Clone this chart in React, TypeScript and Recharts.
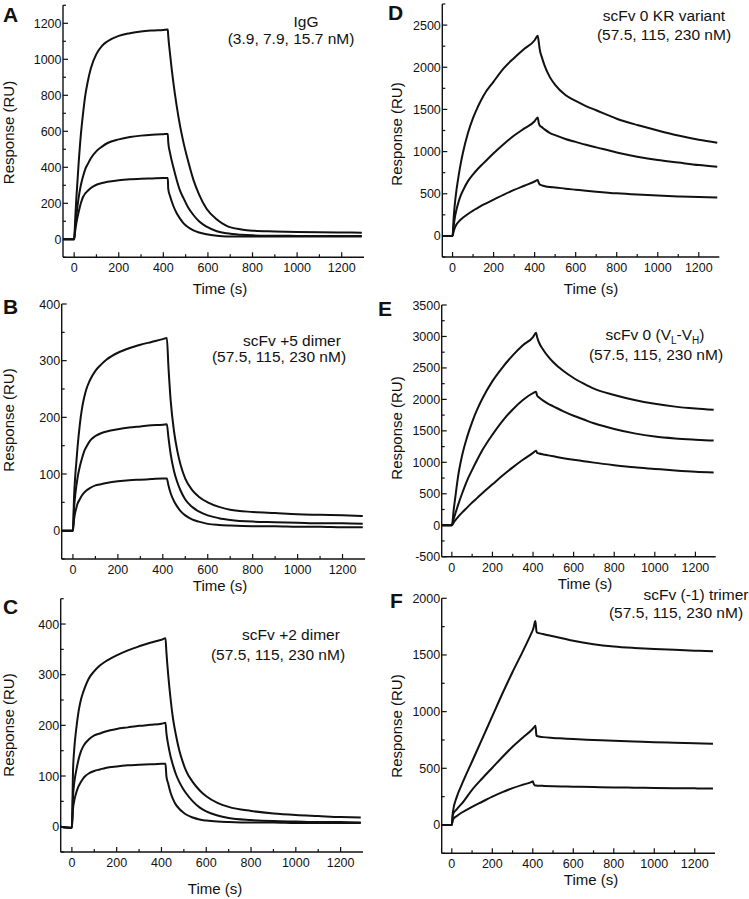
import { Line, LineChart, XAxis, YAxis } from "recharts"

const FONT = 'Arial, "Liberation Sans", Helvetica, sans-serif'
const INK = "#111"

// shared time axis (s)
const xTicks = [0, 100, 200, 300, 400, 500, 600, 700, 800, 900, 1000, 1100, 1200]
const xLabels = [0, 200, 400, 600, 800, 1000, 1200]

// A: IgG (3.9, 7.9, 15.7 nM)
const aTime = [-50, 0, 5, 10, 20, 30, 40, 50, 60, 75, 100, 125, 150, 200, 250, 300, 350, 400, 420, 422, 430, 445, 460, 475, 490, 510, 535, 560, 594, 640, 684, 750, 800, 900, 1000, 1100, 1200, 1290]
const aHigh = [0, 0, 120, 230, 420, 580, 700, 800, 870, 950, 1030, 1075, 1100, 1130, 1145, 1155, 1160, 1163, 1165, 1130, 1030, 870, 740, 630, 540, 440, 330, 250, 170, 110, 75, 55, 48, 44, 41, 39, 38, 37]
const aMid = [0, 0, 70, 130, 230, 300, 350, 390, 415, 450, 490, 515, 535, 555, 568, 576, 581, 584, 585, 540, 480, 400, 330, 270, 230, 180, 135, 100, 70, 45, 33, 25, 22, 20, 19, 18, 18, 18]
const aLow = [0, 0, 50, 90, 150, 200, 235, 255, 268, 285, 303, 313, 320, 328, 333, 336, 338, 340, 341, 280, 240, 185, 145, 115, 90, 68, 50, 38, 28, 20, 16, 15, 15, 15, 15, 16, 16, 16]
const aYTicks = [-100, 0, 100, 200, 300, 400, 500, 600, 700, 800, 900, 1000, 1100, 1200, 1300]
const aYLabels = [0, 200, 400, 600, 800, 1000, 1200]

// B: scFv +5 dimer
const bTime = [-50, 0, 5, 10, 15, 20, 30, 40, 50, 60, 75, 100, 125, 150, 200, 250, 300, 350, 400, 418, 425, 435, 450, 465, 480, 500, 530, 560, 600, 650, 700, 800, 900, 1000, 1100, 1200, 1290]
const bHigh = [0, 0, 60, 95, 120, 145, 185, 215, 235, 250, 265, 282, 293, 302, 314, 322, 328, 333, 338, 340, 290, 230, 175, 140, 115, 92, 72, 60, 50, 42, 37, 33, 31, 29, 28, 27, 26]
const bMid = [0, 0, 40, 62, 78, 92, 112, 127, 140, 148, 158, 167, 172, 175, 179, 182, 184, 186, 187, 188, 165, 135, 105, 85, 70, 55, 42, 34, 27, 22, 19, 16, 15, 14, 13, 13, 12]
const bLow = [0, 0, 20, 32, 40, 47, 55, 62, 67, 71, 75, 80, 82, 84, 87, 89, 90, 91, 92, 92, 80, 66, 52, 42, 34, 27, 20, 16, 12, 10, 9, 8, 8, 7, 7, 6, 6]
const bYTicks = [-50, 0, 50, 100, 150, 200, 250, 300, 350, 400]
const bYLabels = [0, 100, 200, 300, 400]

// C: scFv +2 dimer
const cTime = [-50, -5, 0, 5, 10, 20, 30, 40, 50, 60, 75, 100, 125, 150, 200, 250, 300, 350, 400, 418, 422, 430, 440, 451, 465, 480, 495, 510, 540, 570, 600, 650, 700, 800, 900, 1000, 1100, 1200, 1290]
const cHigh = [0, -2, -2, 110, 150, 195, 228, 250, 265, 277, 292, 307, 318, 326, 338, 348, 356, 363, 369, 372, 345, 300, 255, 215, 180, 150, 128, 110, 88, 72, 60, 47, 39, 31, 26, 23, 21, 19, 18]
const cMid = [0, -2, -2, 60, 85, 112, 133, 148, 158, 165, 172, 180, 184, 188, 193, 196, 199, 201, 203, 205, 185, 162, 140, 122, 103, 88, 76, 66, 50, 38, 30, 22, 17, 13, 11, 10, 9, 9, 8]
const cLow = [0, -2, -2, 35, 50, 68, 80, 88, 95, 100, 105, 110, 113, 116, 119, 121, 122, 123, 124, 124, 100, 85, 68, 55, 43, 35, 29, 24, 18, 14, 12, 10, 9, 8, 8, 7, 7, 7, 7]
const cYTicks = [-50, 0, 50, 100, 150, 200, 250, 300, 350, 400, 450]
const cYLabels = [0, 100, 200, 300, 400]

// D: scFv 0 KR variant
const dTime = [-50, 0, 5, 10, 20, 30, 40, 50, 75, 100, 125, 150, 200, 250, 300, 350, 400, 415, 420, 425, 435, 450, 475, 500, 550, 600, 650, 700, 800, 900, 1000, 1100, 1200, 1290]
const dHigh = [0, 0, 200, 350, 560, 720, 860, 980, 1220, 1400, 1540, 1660, 1830, 1990, 2110, 2220, 2320, 2375, 2300, 2210, 2120, 2010, 1880, 1790, 1670, 1600, 1540, 1490, 1390, 1315, 1250, 1190, 1140, 1105]
const dMid = [0, 0, 110, 200, 320, 410, 480, 535, 650, 730, 800, 860, 980, 1090, 1190, 1275, 1360, 1405, 1340, 1310, 1290, 1260, 1220, 1195, 1150, 1115, 1080, 1050, 990, 940, 900, 870, 840, 820]
const dLow = [0, 0, 50, 90, 140, 170, 195, 215, 260, 300, 335, 370, 430, 490, 545, 595, 645, 663, 630, 610, 600, 590, 580, 575, 560, 548, 536, 525, 505, 490, 478, 468, 460, 455]
const dYTicks = [-250, 0, 250, 500, 750, 1000, 1250, 1500, 1750, 2000, 2250, 2500, 2750]
const dYLabels = [0, 500, 1000, 1500, 2000, 2500]

// E: scFv 0 (VL-VH)
const eTime = [-50, 0, 10, 20, 30, 50, 75, 100, 125, 150, 200, 250, 300, 350, 400, 415, 420, 430, 450, 475, 500, 550, 600, 650, 700, 800, 900, 1000, 1100, 1200, 1290]
const eHigh = [0, 0, 270, 520, 760, 1100, 1400, 1640, 1840, 2010, 2290, 2510, 2700, 2860, 2990, 3060, 2990, 2900, 2790, 2680, 2590, 2450, 2340, 2250, 2170, 2070, 1990, 1930, 1885, 1855, 1835]
const eMid = [0, 0, 110, 215, 315, 500, 710, 880, 1040, 1190, 1440, 1660, 1840, 1990, 2100, 2120, 2060, 2030, 1980, 1930, 1890, 1810, 1740, 1680, 1620, 1530, 1460, 1410, 1380, 1360, 1345]
const eLow = [0, 0, 50, 90, 130, 200, 280, 360, 435, 510, 650, 790, 920, 1040, 1150, 1185, 1150, 1140, 1125, 1110, 1095, 1065, 1040, 1018, 995, 955, 920, 895, 870, 850, 840]
const eYTicks = [-500, -250, 0, 250, 500, 750, 1000, 1250, 1500, 1750, 2000, 2250, 2500, 2750, 3000, 3250, 3500]
const eYLabels = [-500, 0, 500, 1000, 1500, 2000, 2500, 3000, 3500]

// F: scFv (-1) trimer
const fTime = [-50, 0, 5, 25, 50, 100, 150, 200, 250, 300, 350, 395, 400, 405, 410, 413, 418, 420, 450, 500, 550, 600, 700, 800, 900, 1000, 1100, 1200, 1290]
const fHigh = [0, 0, 110, 250, 360, 560, 760, 960, 1160, 1350, 1530, 1700, 1720, 1750, 1790, 1800, 1710, 1700, 1685, 1665, 1645, 1625, 1595, 1575, 1562, 1552, 1545, 1538, 1532]
const fMid = [0, 0, 90, 140, 190, 310, 410, 505, 600, 690, 770, 840, 850, 860, 870, 875, 790, 785, 775, 768, 763, 758, 750, 742, 736, 730, 725, 720, 717]
const fLow = [0, 0, 45, 80, 110, 160, 205, 250, 290, 325, 355, 380, 385, 360, 350, 348, 348, 347, 345, 342, 340, 338, 334, 331, 329, 327, 325, 323, 322]
const fYTicks = [-250, 0, 250, 500, 750, 1000, 1250, 1500, 1750, 2000]
const fYLabels = [0, 500, 1000, 1500, 2000]

type PanelDef = {
  box: [number, number, number, number] // left, top, width, height of the chart
  plot: [number, number, number, number] // left, top, right, bottom of the plot area
  yDomain: [number, number]
  time: number[]
  high: number[]
  mid: number[]
  low: number[]
  yTicks: number[]
  yLabels: number[]
}

const panels: PanelDef[] = [
  { box: [0, 0, 375, 300], plot: [63, 5.3, 364, 257.3], yDomain: [-100, 1300], time: aTime, high: aHigh, mid: aMid, low: aLow, yTicks: aYTicks, yLabels: aYLabels },
  { box: [0, 290, 375, 300], plot: [61.7, 304, 365, 559], yDomain: [-50, 400], time: bTime, high: bHigh, mid: bMid, low: bLow, yTicks: bYTicks, yLabels: bYLabels },
  { box: [0, 580, 375, 319], plot: [60.7, 598.7, 363, 852], yDomain: [-50, 450], time: cTime, high: cHigh, mid: cMid, low: cLow, yTicks: cYTicks, yLabels: cYLabels },
  { box: [375, 0, 374, 300], plot: [442.3, 4, 719.3, 257], yDomain: [-250, 2750], time: dTime, high: dHigh, mid: dMid, low: dLow, yTicks: dYTicks, yLabels: dYLabels },
  { box: [375, 290, 374, 300], plot: [441.7, 305, 715.7, 556.7], yDomain: [-500, 3500], time: eTime, high: eHigh, mid: eMid, low: eLow, yTicks: eYTicks, yLabels: eYLabels },
  { box: [375, 580, 374, 319], plot: [441.7, 598.3, 715, 853.3], yDomain: [-250, 2000], time: fTime, high: fHigh, mid: fMid, low: fLow, yTicks: fYTicks, yLabels: fYLabels },
]

function XTick(props: any) {
  const { x, y, payload } = props
  const major = xLabels.includes(payload.value)
  return (
    <g>
      <line x1={x} x2={x} y1={y} y2={y - (major ? 5 : 3)} stroke={INK} strokeWidth={1.2} />
      {major && (
        <text x={x} y={y + 15} textAnchor="middle" fontSize={12.5} fontFamily={FONT} fill={INK}>
          {payload.value}
        </text>
      )}
    </g>
  )
}

function YTick(props: any) {
  const { x, y, payload, labels } = props
  const major = labels.includes(payload.value)
  return (
    <g>
      <line x1={x} x2={x + (major ? 5 : 3)} y1={y} y2={y} stroke={INK} strokeWidth={1.2} />
      {major && (
        <text x={x - 1.5} y={y} dy="0.36em" textAnchor="end" fontSize={12.5} fontFamily={FONT} fill={INK}>
          {payload.value}
        </text>
      )}
    </g>
  )
}

function Panel({ p }: { p: PanelDef }) {
  const [bx, by, bw, bh] = p.box
  const [pl, pt, pr, pb] = p.plot
  const data = p.time.map((t, i) => ({ t, high: p.high[i], mid: p.mid[i], low: p.low[i] }))
  return (
    <div style={{ position: "absolute", left: bx, top: by }}>
      <LineChart width={bw} height={bh} data={data} margin={{ top: pt - by, right: bx + bw - pr, bottom: 0, left: 0 }}>
        <XAxis
          dataKey="t"
          type="number"
          domain={[-50, 1300]}
          ticks={xTicks}
          interval={0}
          height={by + bh - pb}
          tickSize={0}
          tickMargin={0}
          tickLine={false}
          axisLine={{ stroke: INK, strokeWidth: 1.4 }}
          tick={(props: any) => <XTick {...props} />}
        />
        <YAxis
          type="number"
          domain={p.yDomain}
          ticks={p.yTicks}
          interval={0}
          width={pl - bx}
          tickSize={0}
          tickMargin={0}
          tickLine={false}
          axisLine={{ stroke: INK, strokeWidth: 1.4 }}
          tick={(props: any) => <YTick {...props} labels={p.yLabels} />}
        />
        <Line type="monotone" dataKey="high" stroke={INK} strokeWidth={2} dot={false} isAnimationActive={false} />
        <Line type="monotone" dataKey="mid" stroke={INK} strokeWidth={2} dot={false} isAnimationActive={false} />
        <Line type="monotone" dataKey="low" stroke={INK} strokeWidth={2} dot={false} isAnimationActive={false} />
      </LineChart>
    </div>
  )
}

// panel letters, titles and notes
const letters = [
  { t: "A", x: 3, y: 22 },
  { t: "B", x: 3, y: 314 },
  { t: "C", x: 3, y: 614 },
  { t: "D", x: 388, y: 20 },
  { t: "E", x: 378, y: 316 },
  { t: "F", x: 390, y: 608 },
]
const yTitles = [
  { x: 8.3, y: 132.5 },
  { x: 8.3, y: 420 },
  { x: 8.3, y: 725 },
  { x: 396.7, y: 134 },
  { x: 396.7, y: 428 },
  { x: 396.7, y: 726 },
]
const xTitles = [
  { x: 220, y: 294 },
  { x: 220, y: 591 },
  { x: 215, y: 894 },
  { x: 591, y: 294 },
  { x: 585, y: 589 },
  { x: 591, y: 885 },
]
const notes = [
  { t: "IgG", x: 306, y: 27 },
  { t: "(3.9, 7.9, 15.7 nM)", x: 291, y: 44 },
  { t: "scFv +5 dimer", x: 292, y: 346 },
  { t: "(57.5, 115, 230 nM)", x: 279, y: 362 },
  { t: "scFv +2 dimer", x: 291, y: 640 },
  { t: "(57.5, 115, 230 nM)", x: 278, y: 660 },
  { t: "scFv 0 KR variant", x: 664, y: 21 },
  { t: "(57.5, 115, 230 nM)", x: 664, y: 40 },
  { t: "(57.5, 115, 230 nM)", x: 656, y: 360 },
  { t: "scFv (-1) trimer", x: 696, y: 600 },
  { t: "(57.5, 115, 230 nM)", x: 676, y: 618 },
]

export default function App() {
  return (
    <div style={{ position: "absolute", left: 0, top: 0, width: 749, height: 899, background: "#fff", overflow: "hidden" }}>
      {panels.map((p, i) => (
        <Panel key={i} p={p} />
      ))}
      <svg width={749} height={899} style={{ position: "absolute", left: 0, top: 0, pointerEvents: "none" }}>
        {letters.map((l) => (
          <text key={l.t} x={l.x} y={l.y} fontSize={21} fontWeight="bold" fontFamily={FONT} fill={INK}>
            {l.t}
          </text>
        ))}
        {yTitles.map((t, i) => (
          <text key={"y" + i} x={t.x} y={t.y} dy="0.35em" transform={`rotate(-90, ${t.x}, ${t.y})`} textAnchor="middle" fontSize={15} fontFamily={FONT} fill={INK}>
            Response (RU)
          </text>
        ))}
        {xTitles.map((t, i) => (
          <text key={"x" + i} x={t.x} y={t.y} textAnchor="middle" fontSize={15} fontFamily={FONT} fill={INK}>
            Time (s)
          </text>
        ))}
        {notes.map((n, i) => (
          <text key={"n" + i} x={n.x} y={n.y} textAnchor="middle" fontSize={15.5} fontFamily={FONT} fill={INK}>
            {n.t}
          </text>
        ))}
        <text x={655} y={340} textAnchor="middle" fontSize={15.5} fontFamily={FONT} fill={INK}>
          scFv 0 (V
          <tspan fontSize={10} dy={4}>L</tspan>
          <tspan dy={-4}>-V</tspan>
          <tspan fontSize={10} dy={4}>H</tspan>
          <tspan dy={-4}>)</tspan>
        </text>
      </svg>
    </div>
  )
}
